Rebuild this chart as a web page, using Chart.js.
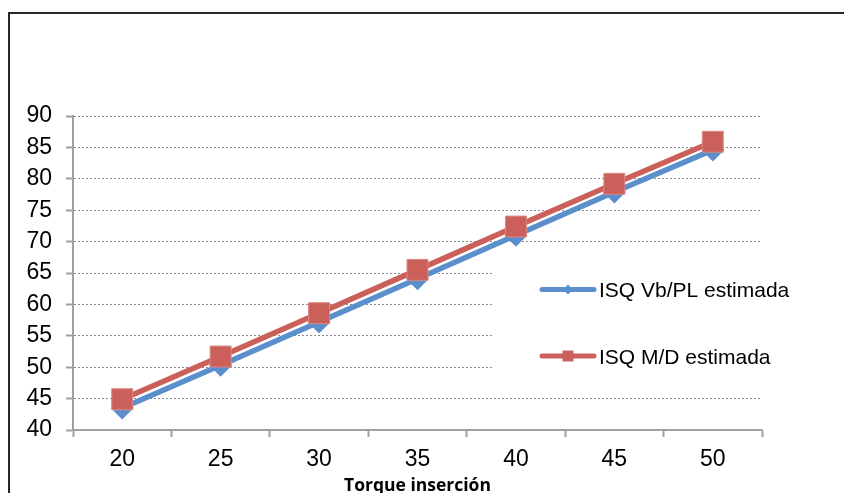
<!DOCTYPE html>
<html>
<head>
<meta charset="utf-8">
<script src="https://cdn.jsdelivr.net/npm/chart.js@4/dist/chart.umd.min.js"></script>
<style>
  html, body { margin: 0; padding: 0; background: #fff; overflow: hidden; }
  #wrap { position: relative; width: 844px; height: 493px; overflow: hidden; }
  #frame { position: absolute; left: 8px; top: 12px; width: 900px; height: 600px;
           border-left: 2px solid #262626; border-top: 2px solid #262626; box-sizing: border-box; }
  #box { position: absolute; left: 0; top: 0; width: 844px; height: 505px; }
</style>
</head>
<body>
<div id="wrap">
  <div id="frame"></div>
  <div id="box"><canvas id="c" width="844" height="505"></canvas></div>
</div>
<script>
// Insertion torque categories and estimated ISQ values
const torque = ['20', '25', '30', '35', '40', '45', '50'];
const isqVbPl = [43.5, 50.3, 57.2, 64.1, 71.0, 77.9, 84.6];
const isqMD = [44.9, 51.7, 58.6, 65.5, 72.4, 79.2, 85.9];
const seriesNames = ['ISQ Vb/PL estimada', 'ISQ M/D estimada'];
const yMin = 40, yMax = 90, yStep = 5;

const BLUE = '#5A8FCC';
const RED = '#CB605A';
const FONT = '"Liberation Sans", Arial, sans-serif';

// Legend drawn inside the plot, on a white panel that hides the grid behind it
const insetLegend = {
  id: 'insetLegend',
  beforeDatasetsDraw(chart) {
    const ctx = chart.ctx;
    ctx.save();
    ctx.fillStyle = '#fff';
    ctx.fillRect(492, 256, 330, 130);
    ctx.restore();
  },
  afterDatasetsDraw(chart) {
    const ctx = chart.ctx;
    const rows = [289.5, 356];
    chart.data.datasets.forEach((ds, i) => {
      const y = rows[i];
      ctx.save();
      ctx.strokeStyle = ds.borderColor;
      ctx.lineWidth = 5;
      ctx.lineCap = 'round';
      ctx.beginPath();
      ctx.moveTo(542, y);
      ctx.lineTo(594, y);
      ctx.stroke();
      ctx.fillStyle = ds.backgroundColor;
      ctx.beginPath();
      if (ds.pointStyle === 'rectRot') {
        const r = 5;
        ctx.moveTo(568 - r, y); ctx.lineTo(568, y - r);
        ctx.lineTo(568 + r, y); ctx.lineTo(568, y + r);
      } else {
        const h = 5.5;
        ctx.rect(568 - h, y - h, 2 * h, 2 * h);
      }
      ctx.closePath();
      ctx.fill();
      ctx.fillStyle = '#000';
      ctx.font = '21px ' + FONT;
      ctx.textBaseline = 'middle';
      ctx.textAlign = 'left';
      ctx.fillText(ds.label, 599, y + 2);
      ctx.restore();
    });
  }
};

new Chart(document.getElementById('c'), {
  type: 'line',
  data: {
    labels: torque,
    datasets: [
      {
        label: seriesNames[0],
        data: isqVbPl,
        order: 1,
        borderColor: BLUE,
        backgroundColor: BLUE,
        borderWidth: 5.5,
        pointStyle: 'rectRot',
        pointRadius: 11.5,
        pointBorderWidth: 0,
        pointBackgroundColor: BLUE,
        tension: 0,
        clip: false
      },
      {
        label: seriesNames[1],
        data: isqMD,
        order: 0,
        borderColor: RED,
        backgroundColor: RED,
        borderWidth: 5.5,
        pointStyle: 'rect',
        pointRadius: 14.8,
        pointBorderWidth: 1,
        pointBorderColor: '#DB8883',
        pointBackgroundColor: RED,
        tension: 0,
        clip: false
      }
    ]
  },
  options: {
    responsive: false,
    animation: false,
    devicePixelRatio: 1,
    layout: { padding: { left: 0, top: 116, right: 82, bottom: 0 } },
    plugins: {
      legend: { display: false },
      tooltip: { enabled: false },
      title: { display: false }
    },
    scales: {
      x: {
        type: 'category',
        offset: true,
        grid: {
          display: true, offset: true, drawOnChartArea: false,
          drawTicks: true, tickLength: 7, tickColor: '#a0a0a0', tickWidth: 2
        },
        border: { display: true, color: '#a0a0a0', width: 2 },
        ticks: {
          color: '#000', font: { family: FONT, size: 23 },
          padding: 9, maxRotation: 0, autoSkip: false
        },
        title: {
          display: true, text: 'Torque inserción', color: '#000',
          font: { family: '"Open Sans", sans-serif', weight: 'bold', size: 17.5 },
          padding: { top: 8, bottom: 8 }
        },
        afterFit(scale) { scale.height = 75; }
      },
      y: {
        min: yMin, max: yMax,
        ticks: {
          stepSize: yStep, color: '#000',
          font: { family: FONT, size: 23 }, padding: 14
        },
        grid: {
          color: '#8c8c8c', lineWidth: 1,
          drawTicks: true, tickLength: 7, tickColor: '#a0a0a0', tickWidth: 2,
          tickBorderDash: []
        },
        border: { display: true, color: '#a0a0a0', width: 2, dash: [2, 2] },
        afterFit(scale) { scale.width = 73; }
      }
    }
  },
  plugins: [insetLegend]
});
</script>
</body>
</html>
